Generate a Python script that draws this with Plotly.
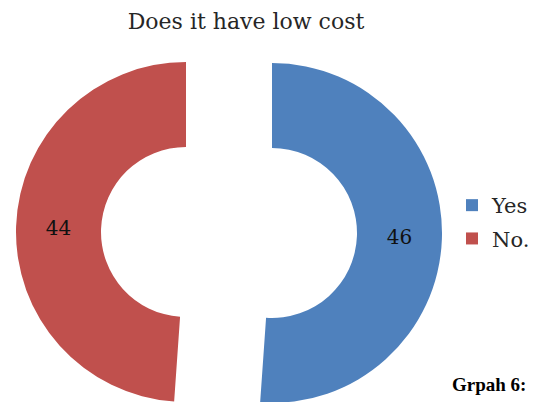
import plotly.graph_objects as go

labels = ["Yes", "No."]
values = [46, 44]
colors = ["#4F81BD", "#C0504D"]
title_text = "Does it have low cost"
caption = "Grpah 6:"

W, H = 536, 402
OFF = 8  # page body margin offset of the rendered plot
R = 170
red_cx, red_cy = 186 - OFF, 232 - OFF
blue_cx, blue_cy = 272 - OFF, 233 - OFF

fig = go.Figure()

def slice_colors(keep):
    return [c if i == keep else "rgba(0,0,0,0)" for i, c in enumerate(colors)]

def slice_text(keep):
    return [str(v) if i == keep else "" for i, v in enumerate(values)]

for keep, cx, cy in [(0, blue_cx, blue_cy), (1, red_cx, red_cy)]:
    fig.add_trace(go.Pie(
        labels=labels,
        values=values,
        sort=False,
        direction="clockwise",
        rotation=0,
        hole=0.5,
        marker=dict(colors=slice_colors(keep), line=dict(width=0)),
        text=slice_text(keep),
        textinfo="text",
        textposition="inside",
        insidetextorientation="horizontal",
        textfont=dict(family="DejaVu Serif", size=20, color="#111111"),
        domain=dict(x=[(cx - R) / W, (cx + R) / W],
                    y=[(H - cy - R) / H, (H - cy + R) / H]),
        showlegend=False,
        hoverinfo="label+value",
    ))

for lab, col in zip(labels, colors):
    fig.add_trace(go.Scatter(
        x=[None], y=[None], mode="markers", name=lab,
        marker=dict(symbol="square", size=12, color=col),
        legendgroup=lab,
    ))

fig.add_annotation(
    text="<b>" + caption + "</b>", x=(528 - OFF) / W, y=1 - (384 - OFF) / H,
    xref="paper", yref="paper", xanchor="right", yanchor="middle",
    showarrow=False, font=dict(family="Liberation Serif", size=19, color="#000000"),
)

fig.update_layout(
    width=W, height=H,
    margin=dict(l=0, r=0, t=0, b=0),
    paper_bgcolor="white", plot_bgcolor="white",
    title=dict(text=title_text, x=(246 - OFF) / W, xanchor="center",
               y=1 - (21 - OFF) / H, yanchor="middle",
               font=dict(family="DejaVu Serif", size=22, color="#262626")),
    xaxis=dict(visible=False), yaxis=dict(visible=False),
    legend=dict(x=(452 - OFF) / W, y=1 - (185 - OFF) / H, xanchor="left", yanchor="top",
                font=dict(family="DejaVu Serif", size=21, color="#262626"),
                tracegroupgap=3, bgcolor="rgba(0,0,0,0)"),
)

fig.write_html("out.html")
